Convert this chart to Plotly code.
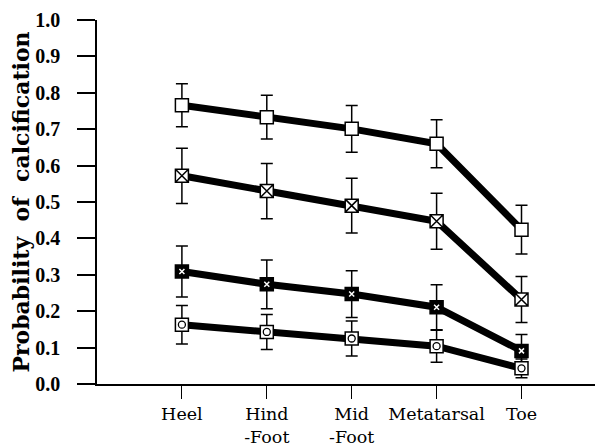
import plotly.graph_objects as go

categories = ["Heel", "Hind<br>-Foot", "Mid<br>-Foot", "Metatarsal", "Toe"]
x_pos = [1, 2, 3, 4, 5]

s1 = [0.766, 0.733, 0.701, 0.660, 0.424]
s1_err = [0.059, 0.060, 0.064, 0.066, 0.067]
s2 = [0.572, 0.530, 0.490, 0.447, 0.232]
s2_err = [0.076, 0.076, 0.075, 0.077, 0.063]
s3 = [0.309, 0.274, 0.247, 0.211, 0.091]
s3_err = [0.070, 0.067, 0.064, 0.062, 0.045]
s4 = [0.163, 0.143, 0.125, 0.104, 0.043]
s4_err = [0.053, 0.048, 0.048, 0.044, 0.026]

y_ticks = [0.0, 0.1, 0.2, 0.3, 0.4, 0.5, 0.6, 0.7, 0.8, 0.9, 1.0]
y_tick_text = ["0.0", "0.1", "0.2", "0.3", "0.4", "0.5", "0.6", "0.7", "0.8", "0.9", "1.0"]

fig = go.Figure()

def add_series(y, err, symbol, fill):
    fig.add_trace(go.Scatter(
        x=x_pos, y=y, mode="lines+markers",
        line=dict(color="black", width=7),
        marker=dict(symbol=symbol, size=13, color=fill,
                    line=dict(color="black", width=1.5)),
        error_y=dict(type="data", array=err, visible=True,
                     color="black", thickness=1.5, width=6),
        showlegend=False, hoverinfo="skip",
    ))

add_series(s1, s1_err, "square", "white")
add_series(s2, s2_err, "square-x", "white")
add_series(s3, s3_err, "square", "black")
add_series(s4, s4_err, "square", "white")

# inner glyphs
fig.add_trace(go.Scatter(
    x=x_pos, y=s3, mode="markers",
    marker=dict(symbol="x-thin-open", size=5, color="white", line=dict(color="white", width=1.5)),
    showlegend=False, hoverinfo="skip",
))
fig.add_trace(go.Scatter(
    x=x_pos, y=s4, mode="markers",
    marker=dict(symbol="circle-open", size=7, color="black", line=dict(color="black", width=1.3)),
    showlegend=False, hoverinfo="skip",
))

fig.update_layout(
    width=595, height=437,
    margin=dict(l=89, r=0, t=12, b=61),
    paper_bgcolor="white", plot_bgcolor="white",
    xaxis=dict(
        range=[0, 5.96], tickmode="array", tickvals=x_pos, ticktext=categories,
        showgrid=False, zeroline=False, showline=True, linecolor="black", linewidth=1.5,
        ticks="outside", ticklen=13, tickwidth=1.3, tickcolor="black",
        ticklabelstandoff=0, automargin=False, ticklabeloverflow="allow",
        tickfont=dict(family="DejaVu Serif", size=17.5, color="black"),
    ),
    yaxis=dict(
        range=[0, 1.0], tickmode="array", tickvals=y_ticks, ticktext=y_tick_text,
        showgrid=False, zeroline=False, showline=True, linecolor="black", linewidth=1.5,
        ticks="outside", ticklen=18, tickwidth=1.5, tickcolor="black",
        ticklabelstandoff=13, automargin=False, ticklabeloverflow="allow",
        tickfont=dict(family="Liberation Serif", size=20, color="black", weight="bold"),
        title=dict(text="Probability\u00a0\u00a0of\u00a0\u00a0calcification",
                   font=dict(family="DejaVu Serif", size=22, color="black", weight="bold"),
                   standoff=2),
    ),
)

fig.write_html("out.html")
